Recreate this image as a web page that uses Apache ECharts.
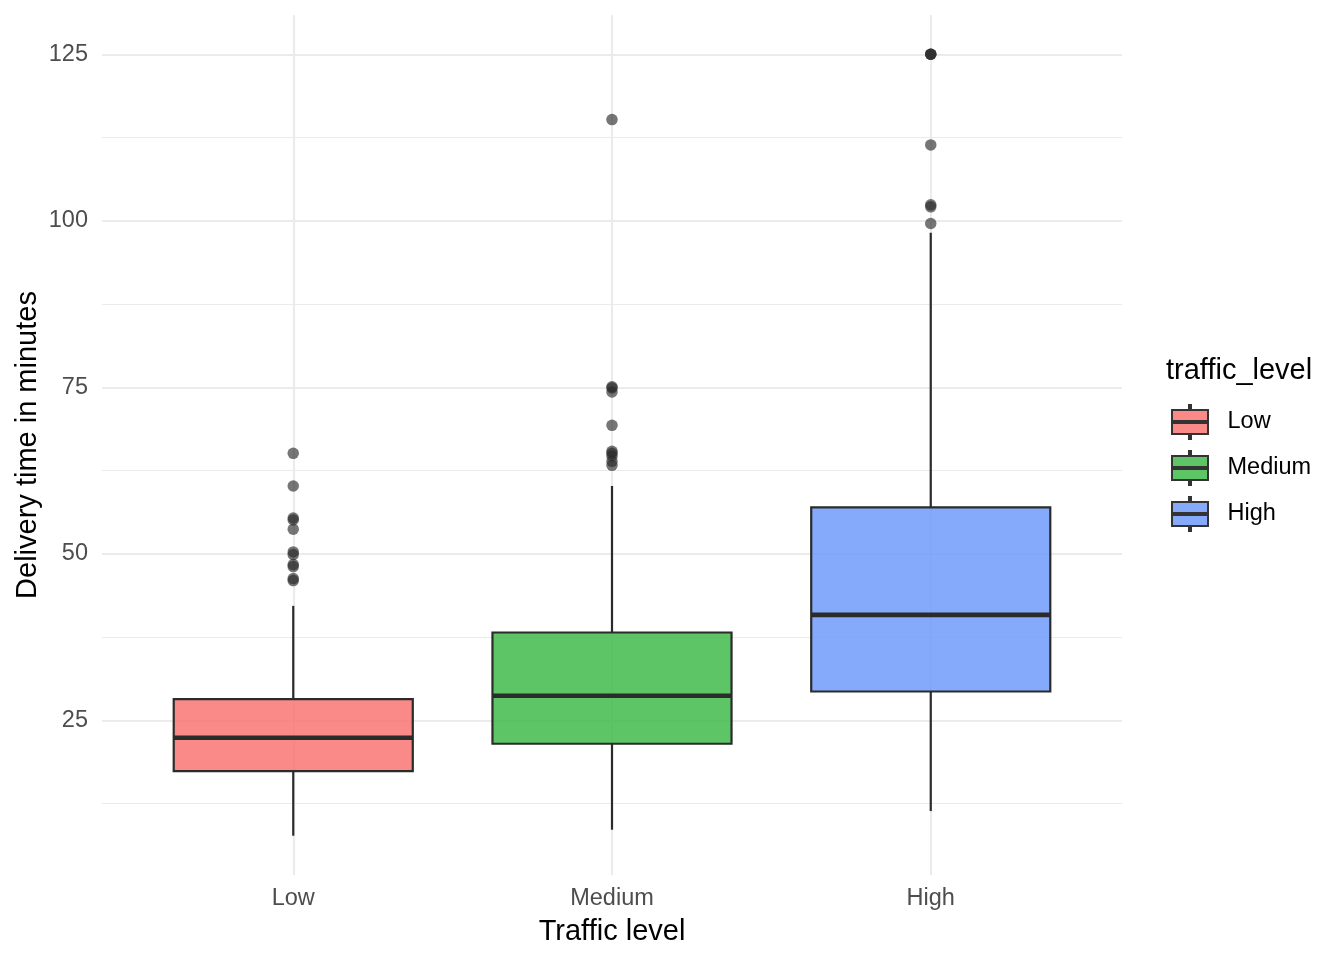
<!DOCTYPE html>
<html>
<head>
<meta charset="utf-8">
<script src="https://cdn.jsdelivr.net/npm/echarts@6/dist/echarts.min.js"></script>
<style>
  html, body { margin: 0; padding: 0; background: #fff; }
  #chartWrap { width: 1344px; height: 960px; }
</style>
</head>
<body>
<div id="chartWrap"></div>
<script>
// 类别与箱线统计（下须, Q1, 中位数, Q3, 上须）
var categories = ['Low', 'Medium', 'High'];
var lowBox = [7.7, 17.4, 22.4, 28.2, 42.2];
var mediumBox = [8.6, 21.5, 28.7, 38.2, 60.2];
var highBox = [11.4, 29.35, 40.85, 57.0, 98.2];
// 离群点
var lowOutliers = [65.1, 60.2, 55.4, 55.1, 53.7, 50.3, 49.9, 48.4, 48.1, 46.3, 46.0];
var mediumOutliers = [115.2, 75.1, 74.9, 74.3, 69.3, 65.4, 65.1, 64.7, 63.9, 63.3];
var highOutliers = [125, 125, 125, 111.4, 102.4, 102.1, 99.6];
// 坐标轴刻度
var majorTicks = [25, 50, 75, 100, 125];
var minorTicks = [12.5, 37.5, 62.5, 87.5, 112.5];
var boxColors = ['rgba(248,118,115,0.85)', 'rgba(66,187,75,0.85)', 'rgba(113,155,250,0.85)'];

var FONT = '"Liberation Sans", Arial, Helvetica, sans-serif';

function renderBox(params, api) {
    var x = api.value(0);
    var pLo = api.coord([x, api.value(1)]);
    var pQ1 = api.coord([x, api.value(2)]);
    var pMed = api.coord([x, api.value(3)]);
    var pQ3 = api.coord([x, api.value(4)]);
    var pHi = api.coord([x, api.value(5)]);
    var bw = api.size([1, 0])[0] * 0.75;
    var cx = pMed[0];
    var dark = '#2b2b2b';
    return {
        type: 'group',
        children: [
            { type: 'line', shape: { x1: cx, y1: pHi[1], x2: cx, y2: pQ3[1] }, style: { stroke: dark, lineWidth: 2.2 } },
            { type: 'line', shape: { x1: cx, y1: pQ1[1], x2: cx, y2: pLo[1] }, style: { stroke: dark, lineWidth: 2.2 } },
            { type: 'rect', shape: { x: cx - bw / 2, y: pQ3[1], width: bw, height: pQ1[1] - pQ3[1] },
              style: { fill: api.visual('color'), stroke: dark, lineWidth: 2.2 } },
            { type: 'line', shape: { x1: cx - bw / 2, y1: pMed[1], x2: cx + bw / 2, y2: pMed[1] },
              style: { stroke: dark, lineWidth: 4.6 } }
        ]
    };
}

var boxSets = [lowBox, mediumBox, highBox];
var outlierSets = [lowOutliers, mediumOutliers, highOutliers];

var series = [];

// 网格线与刻度文字（markLine 画在最底层）
var gridLines = [];
for (var i = 0; i < minorTicks.length; i++) {
    gridLines.push({ yAxis: minorTicks[i], lineStyle: { width: 1.1 }, label: { show: false } });
}
for (var i = 0; i < majorTicks.length; i++) {
    gridLines.push({ yAxis: majorTicks[i], lineStyle: { width: 2.1 } });
}
for (var i = 0; i < categories.length; i++) {
    gridLines.push({
        xAxis: i,
        name: categories[i],
        lineStyle: { width: 2.1 },
        label: { distance: 12, formatter: function (p) { return p.name; } }
    });
}
series.push({
    type: 'line',
    data: [],
    z: 0,
    silent: true,
    markLine: {
        silent: true,
        z: 0,
        symbol: 'none',
        animation: false,
        lineStyle: { color: '#EBEBEB', type: 'solid' },
        label: {
            show: true,
            position: 'start',
            distance: 14,
            color: '#4D4D4D',
            fontSize: 23.5,
            fontFamily: FONT,
            formatter: function (p) { return p.value; }
        },
        data: gridLines
    }
});

for (var i = 0; i < categories.length; i++) {
    series.push({
        name: categories[i],
        type: 'custom',
        renderItem: renderBox,
        itemStyle: { color: boxColors[i] },
        encode: { x: 0, y: [1, 2, 3, 4, 5] },
        z: 2,
        data: [[i].concat(boxSets[i])]
    });
}

var outlierData = [];
for (var i = 0; i < outlierSets.length; i++) {
    for (var j = 0; j < outlierSets[i].length; j++) {
        outlierData.push([i, outlierSets[i][j]]);
    }
}
series.push({
    type: 'scatter',
    symbolSize: 11.5,
    z: 3,
    itemStyle: { color: 'rgba(40,40,40,0.8)' },
    data: outlierData
});

var myChart = echarts.init(document.getElementById('chartWrap'));
var option = {
    animation: false,
    backgroundColor: '#ffffff',
    textStyle: { fontFamily: FONT },
    title: {
        text: 'traffic_level',
        left: 1166,
        top: 356,
        padding: 0,
        textStyle: { fontSize: 29, fontWeight: 'normal', color: '#000', fontFamily: FONT }
    },
    legend: {
        data: categories,
        orient: 'vertical',
        left: 1171,
        top: 404,
        padding: 0,
        itemWidth: 37,
        itemHeight: 34,
        itemGap: 10,
        icon: 'path://M17,0 L19,0 L19,5 L36,5 L36,29 L19,29 L19,34 L17,34 L17,29 L0,29 L0,5 L17,5 Z M0,16 L36,16 L36,18 L0,18 Z',
        itemStyle: { borderColor: '#333333', borderWidth: 2 },
        textStyle: { fontSize: 23.5, color: '#000', fontFamily: FONT, padding: [0, 0, 0, 14] },
        selectedMode: false
    },
    grid: { left: 102, right: 222, top: 15, bottom: 85, outerBoundsMode: 'none', containLabel: false },
    xAxis: {
        type: 'value',
        min: -0.6,
        max: 2.6,
        axisLine: { show: false },
        axisTick: { show: false },
        axisLabel: { show: false },
        splitLine: { show: false },
        name: 'Traffic level',
        nameLocation: 'middle',
        nameGap: 42,
        nameTextStyle: { fontSize: 29, color: '#000', fontFamily: FONT }
    },
    yAxis: {
        type: 'value',
        min: 1.8,
        max: 130.9,
        axisLine: { show: false },
        axisTick: { show: false },
        axisLabel: { show: false },
        splitLine: { show: false },
        name: 'Delivery time in minutes',
        nameLocation: 'middle',
        nameGap: 60,
        nameTextStyle: { fontSize: 29, color: '#000', fontFamily: FONT }
    },
    series: series
};
myChart.setOption(option, true);
</script>
</body>
</html>
